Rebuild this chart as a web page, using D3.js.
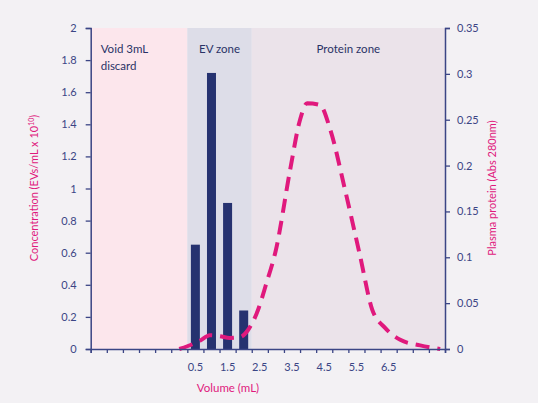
<!DOCTYPE html>
<html><head><meta charset="utf-8">
<script src="https://cdn.jsdelivr.net/npm/d3@7"></script>
<style>body{margin:0;background:#f3f1f4;font-family:Lato,"Noto Sans",sans-serif}</style>
</head><body><svg id="c" width="538" height="403"></svg>
<script>
var zones = [
  {name: 'Void 3mL\ndiscard', from: -2.75, to: 0.25, color: '#fce6ec'},
  {name: 'EV zone', from: 0.25, to: 2.25, color: '#dddde8'},
  {name: 'Protein zone', from: 2.25, to: 8.25, color: '#ebe3ea'}
];
var barVolumes = [0.5, 1, 1.5, 2];
var barConc = [0.65, 1.72, 0.91, 0.24];
var protVolumes = [0, 0.25, 0.64, 0.95, 1.26, 1.57, 1.89, 2.14, 2.45, 2.69, 3.0, 3.44, 3.75, 3.97, 4.37, 4.69, 5.15, 5.61, 5.99, 6.39, 6.86, 7.48, 8.1];
var protAbs = [0, 0.003, 0.009, 0.015, 0.014, 0.012, 0.013, 0.021, 0.043, 0.07, 0.108, 0.195, 0.25, 0.268, 0.266, 0.239, 0.173, 0.102, 0.043, 0.023, 0.01, 0.004, 0];
var xLabels = [0.5, 1.5, 2.5, 3.5, 4.5, 5.5, 6.5];
var leftTicks = [0, 0.2, 0.4, 0.6, 0.8, 1, 1.2, 1.4, 1.6, 1.8, 2];
var rightTicks = [0, 0.05, 0.1, 0.15, 0.2, 0.25, 0.3, 0.35];

var svg = d3.select('#c');
var navy = '#3b4585', pink = '#e0197d';
var x = d3.scaleLinear().domain([-2.75, 8.25]).range([90.7, 445]);
var y = d3.scaleLinear().domain([0, 2]).range([349, 28]);
var y2 = d3.scaleLinear().domain([0, 0.35]).range([349, 28]);

svg.selectAll('rect.z').data(zones).enter().append('rect')
  .attr('x', function(d) { return x(d.from); }).attr('y', 28)
  .attr('width', function(d) { return x(d.to) - x(d.from); }).attr('height', 321)
  .attr('fill', function(d) { return d.color; });
zones.forEach(function(d, i) {
  var t = svg.append('text').attr('font-size', 11.5).attr('fill', '#2a3266')
    .attr('x', i === 0 ? x(d.from) + 10 : (x(d.from) + x(d.to)) / 2)
    .attr('text-anchor', i === 0 ? 'start' : 'middle').attr('y', 53);
  d.name.split('\n').forEach(function(s, j) {
    t.append('tspan').attr('x', t.attr('x')).attr('dy', j ? 17 : 0).text(s);
  });
});

svg.selectAll('rect.b').data(barVolumes).enter().append('rect')
  .attr('x', function(d) { return x(d) - 4.5; }).attr('width', 9)
  .attr('y', function(d, i) { return y(barConc[i]); })
  .attr('height', function(d, i) { return 349 - y(barConc[i]); })
  .attr('fill', '#263270');

var line = d3.line().curve(d3.curveMonotoneX)
  .x(function(d) { return x(d); }).y(function(d, i) { return y2(protAbs[i]); });
svg.append('path').datum(protVolumes).attr('d', line).attr('fill', 'none')
  .attr('stroke', pink).attr('stroke-width', 4).attr('stroke-dasharray', '14,8');

var xt = d3.range(23).map(function(i) { return -2.75 + i * 0.5; });
var gx = svg.append('g').attr('transform', 'translate(0,349)')
  .call(d3.axisBottom(x).tickValues(xt).tickSize(4).tickFormat(''));
svg.selectAll('text.xl').data(xLabels).enter().append('text')
  .attr('x', function(d) { return x(d); }).attr('y', 371).attr('text-anchor', 'middle')
  .attr('font-size', 11).attr('fill', navy).text(function(d) { return d; });
var gl = svg.append('g').attr('transform', 'translate(90.7,0)')
  .call(d3.axisLeft(y).tickValues(leftTicks).tickSize(5).tickFormat(d3.format('')));
var gr = svg.append('g').attr('transform', 'translate(445,0)')
  .call(d3.axisRight(y2).tickValues(rightTicks).tickSize(5).tickFormat(d3.format('')));
[gx, gl, gr].forEach(function(g) {
  g.select('.domain').attr('stroke', navy).attr('stroke-width', 1.5);
  g.selectAll('line').attr('stroke', navy).attr('stroke-width', 1.3);
  g.selectAll('text').attr('fill', navy).attr('font-size', 11).attr('font-family', 'Lato,sans-serif');
});
gl.selectAll('text').attr('dx', -6);
gr.selectAll('text').attr('dx', 4);

svg.append('text').attr('x', 228).attr('y', 392).attr('text-anchor', 'middle')
  .attr('fill', pink).attr('font-size', 11.5).text('Volume (mL)');
var tl = svg.append('text').attr('transform', 'translate(38,188) rotate(-90)')
  .attr('text-anchor', 'middle').attr('fill', pink).attr('font-size', 11).text('Concentration (EVs/mL x 10');
tl.append('tspan').attr('font-size', 7).attr('dy', -4).text('10');
tl.append('tspan').attr('dy', 4).text(')');
svg.append('text').attr('transform', 'translate(496,188) rotate(-90)')
  .attr('text-anchor', 'middle').attr('fill', pink).attr('font-size', 11).text('Plasma protein (Abs 280nm)');
</script></body></html>
